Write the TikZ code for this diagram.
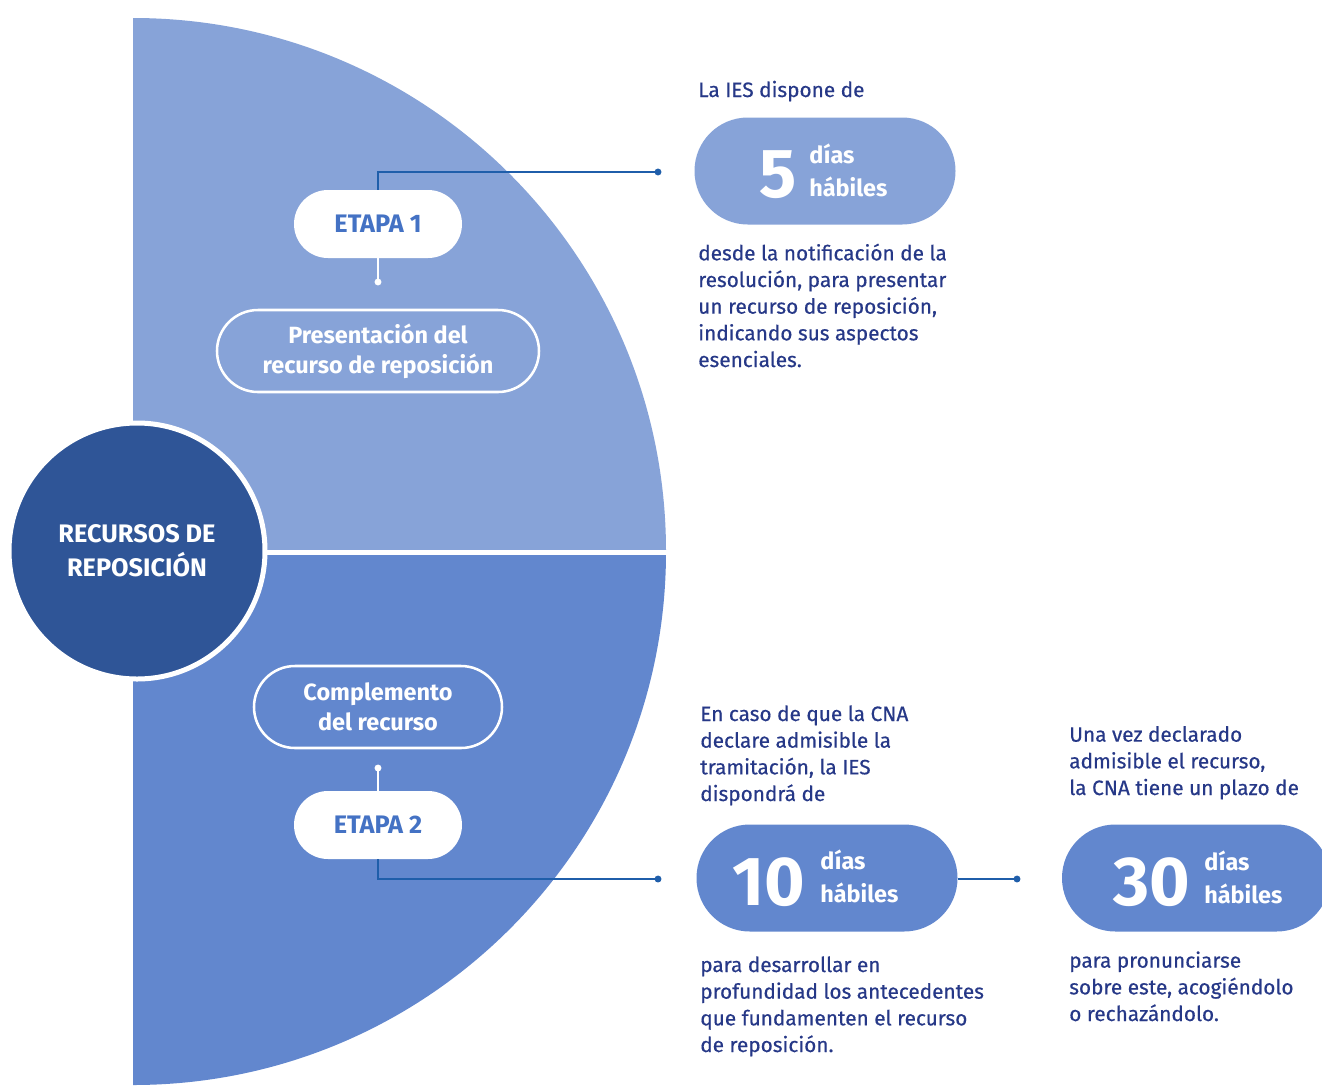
\documentclass[tikz,border=0pt]{standalone}
\usepackage{fontspec}
\setmainfont{Fira Sans}
\newfontfamily\notefont{Fira Sans}[FakeBold=0.5]
\usetikzlibrary{positioning}
\definecolor{upperblue}{RGB}{135,163,216}
\definecolor{lowerblue}{RGB}{98,135,206}
\definecolor{hubblue}{RGB}{47,85,151}
\definecolor{stagetext}{RGB}{68,114,196}
\definecolor{linkblue}{RGB}{31,94,170}
\definecolor{ink}{RGB}{38,56,135}
\tikzset{
hub/.style={circle, fill=hubblue, draw=white, line width=3.75pt, minimum size=192pt, text=white, align=center, font=\bfseries\fontsize{19}{25.5}\selectfont}, % central circle
stagebox/.style={rectangle, rounded corners=25.5pt, minimum width=126pt, minimum height=51pt, fill=white, text=stagetext, font=\bfseries\fontsize{19}{20}\selectfont}, % white ETAPA pills
taskbox/.style={rectangle, rounded corners=30.75pt, minimum height=61.5pt, draw=white, line width=1.9pt, text=white, align=center, font=\bfseries\fontsize{17.6}{22.5}\selectfont}, % outlined pills
daybox/.style={rectangle, rounded corners=40pt, minimum width=195.75pt, minimum height=80.25pt}, % day count pills
bignum/.style={inner sep=0pt, text=white, font=\bfseries\fontsize{52}{52}\selectfont}, % big numbers
dayslbl/.style={inner sep=0pt, text=white, align=left, font=\bfseries\fontsize{17.6}{24.5}\selectfont}, % dias habiles
note/.style={inner sep=0pt, text=ink, align=left, anchor=base west, font=\notefont\fontsize{15.6}{20}\selectfont}, % body text, anchored at its last line
link/.style={draw=linkblue, line width=1.5pt}, % blue connectors
stub/.style={draw=white, line width=1.5pt}, % white connectors
}
\begin{document}
\begin{tikzpicture}[x=0.75pt, y=-0.75pt]
    \useasboundingbox (0,0) rectangle (1322,1086);
    \clip (0,0) rectangle (1322,1086);
    % half disc
    \fill[upperblue] (133,552) -- (133,18) arc[start angle=-90, end angle=0, radius=533] -- cycle;
    \fill[lowerblue] (133,552) -- (666,552) arc[start angle=0, end angle=90, radius=533] -- cycle;
    \draw[white, line width=3.75pt] (133,552) -- (670,552);
    \node[hub] (hub) at (137,551) {RECURSOS DE\\REPOSICIÓN};

    % stages
    \node[stagebox] (et1) at (378,224) {ETAPA 1};
    \node[taskbox, minimum width=241.5pt] (pres) at (378,351) {Presentación del\\recurso de reposición};
    \node[taskbox, minimum width=186pt] (comp) at (378,707) {Complemento\\del recurso};
    \node[stagebox] (et2) at (378,825) {ETAPA 2};
    \coordinate (w1) at (378,282);
    \coordinate (w2) at (378,768);
    \coordinate (d1) at (658,172);
    \coordinate (d2) at (658,879);
    \coordinate (d3) at (1017,879);

    % day pills
    \node[daybox, fill=upperblue] (p5) at (825,171) {};
    \node[daybox, fill=lowerblue] (p10) at (827,878) {};
    \node[daybox, fill=lowerblue, minimum width=201pt] (p30) at (1196,878) {};
    \node[bignum, anchor=base east] (n5) at (797,197) {5};
    \node[dayslbl, anchor=north west] (l5) at (809,144) {días\\hábiles};
    \node[bignum, anchor=base east] (n10) at (805,905) {10};
    \node[dayslbl, anchor=north west] (l10) at (820,850) {días\\hábiles};
    \node[bignum, anchor=base east] (n30) at (1190,905) {30};
    \node[dayslbl, anchor=north west] (l30) at (1204,851) {días\\hábiles};

    % texts
    \node[note] (t1) at (698,97) {La IES dispone de};
    \node[note] (t2) at (698,367) {desde la notificación de la\\resolución, para presentar\\un recurso de reposición,\\indicando sus aspectos\\esenciales.};
    \node[note] (t3) at (700,801) {En caso de que la CNA\\declare admisible la\\tramitación, la IES\\dispondrá de};
    \node[note] (t4) at (700,1052) {para desarrollar en\\profundidad los antecedentes\\que fundamenten el recurso\\de reposición.};
    \node[note] (t5) at (1069,795) {Una vez declarado\\admisible el recurso,\\la CNA tiene un plazo de};
    \node[note] (t6) at (1069,1021) {para pronunciarse\\sobre este, acogiéndolo\\o rechazándolo.};

    % connectors
    \draw[link] (et1.north) |- (d1);
    \draw[link] (et2.south) |- (d2);
    \draw[link] (p10.east |- d3) -- (d3);
    \foreach \d in {d1,d2,d3} \fill[linkblue] (\d) circle (2.6pt);
    \draw[stub] (et1.south) -- (w1);
    \draw[stub] (w2) -- (et2.north);
    \foreach \w in {w1,w2} \fill[white] (\w) circle (2.6pt);
\end{tikzpicture}
\end{document}
